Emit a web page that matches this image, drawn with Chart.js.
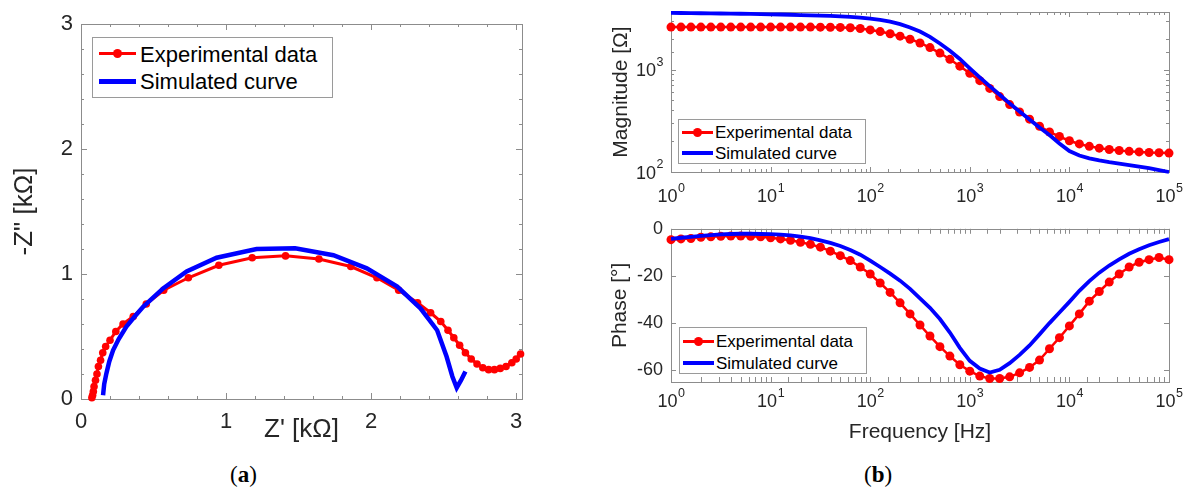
<!DOCTYPE html>
<html lang="en">
<head>
<meta charset="utf-8">
<title>Nyquist and Bode plots</title>
<script src="https://cdn.jsdelivr.net/npm/chart.js@4.4.1/dist/chart.umd.min.js"></script>
<style>
  body { margin: 0; background: #fff; }
  #page { position: relative; width: 1191px; height: 493px; overflow: hidden;
          font-family: "Liberation Sans", Arial, sans-serif; }
  .plot { position: absolute; }
  .legend { position: absolute; background: #fff; border: 1px solid #9a9a9a; box-sizing: border-box; color: #000; }
  .legend span { position: absolute; white-space: nowrap; }
  .legend .ln { position: absolute; }
  .legend .dot { position: absolute; border-radius: 50%; background: #ff0000; }
  .cap { position: absolute; font-family: "Liberation Serif", "DejaVu Serif", serif; font-size: 23px; color: #000; }
</style>
</head>
<body>
<div id="page">
  <canvas id="nyq" class="plot" style="left:0;top:0" width="545" height="445"></canvas>
  <canvas id="mag" class="plot" style="left:590px;top:0" width="601" height="210"></canvas>
  <canvas id="pha" class="plot" style="left:590px;top:210px" width="601" height="240"></canvas>

  <div class="legend" style="left:92px;top:37px;width:241px;height:61px;font-size:22px;line-height:26px">
    <div class="ln" style="left:6px;top:14px;width:37px;height:3px;background:#ff0000"></div>
    <div class="dot" style="left:20px;top:11px;width:9px;height:9px"></div>
    <span style="left:47px;top:4px">Experimental data</span>
    <div class="ln" style="left:6px;top:41px;width:37px;height:5px;background:#0000ff"></div>
    <span style="left:47px;top:31px">Simulated curve</span>
  </div>

  <div class="legend" style="left:678px;top:119px;width:188px;height:45px;font-size:17px;line-height:20px">
    <div class="ln" style="left:3px;top:11px;width:31px;height:3px;background:#ff0000"></div>
    <div class="dot" style="left:14px;top:8px;width:9px;height:9px"></div>
    <span style="left:36px;top:3px">Experimental data</span>
    <div class="ln" style="left:3px;top:31px;width:31px;height:4px;background:#0000ff"></div>
    <span style="left:36px;top:24px">Simulated curve</span>
  </div>

  <div class="legend" style="left:679px;top:327px;width:188px;height:47px;font-size:17px;line-height:20px">
    <div class="ln" style="left:3px;top:12px;width:31px;height:3px;background:#ff0000"></div>
    <div class="dot" style="left:14px;top:9px;width:9px;height:9px"></div>
    <span style="left:36px;top:4px">Experimental data</span>
    <div class="ln" style="left:3px;top:33px;width:31px;height:4px;background:#0000ff"></div>
    <span style="left:36px;top:26px">Simulated curve</span>
  </div>

  <div class="cap" style="left:230px;top:462px">(<b>a</b>)</div>
  <div class="cap" style="left:864px;top:462px">(<b>b</b>)</div>
</div>

<script>
// ---- data ----
// Nyquist plot, kOhm
var nyqExpRe = [0.075, 0.08, 0.085, 0.09, 0.10, 0.11, 0.12, 0.135, 0.15, 0.17, 0.20, 0.24, 0.29, 0.36,
                0.45, 0.57, 0.74, 0.95, 1.18, 1.41, 1.64, 1.86, 2.04, 2.19, 2.32, 2.41, 2.48, 2.53,
                2.57, 2.61, 2.65, 2.69, 2.73, 2.77, 2.81, 2.85, 2.89, 2.93, 2.97, 3.00, 3.03];
var nyqExpIm = [0.01, 0.03, 0.06, 0.10, 0.15, 0.20, 0.26, 0.31, 0.37, 0.42, 0.47, 0.54, 0.60, 0.66,
                0.76, 0.87, 0.97, 1.07, 1.13, 1.145, 1.12, 1.06, 0.97, 0.87, 0.77, 0.69, 0.62, 0.55,
                0.49, 0.43, 0.37, 0.32, 0.28, 0.25, 0.235, 0.235, 0.245, 0.26, 0.29, 0.32, 0.36];
var nyqSimRe = [0.152, 0.16, 0.175, 0.195, 0.221, 0.26, 0.313, 0.37, 0.43, 0.566, 0.728, 0.935,
                1.21, 1.476, 1.74, 1.97, 2.18, 2.34, 2.455, 2.52, 2.56, 2.59, 2.62, 2.65];
var nyqSimIm = [0.03, 0.12, 0.205, 0.30, 0.39, 0.48, 0.58, 0.66, 0.74, 0.885, 1.02, 1.13,
                1.20, 1.205, 1.15, 1.045, 0.90, 0.725, 0.55, 0.34, 0.18, 0.09, 0.15, 0.22];

// Bode plots
var freq = [1, 1.259, 1.585, 1.995, 2.512, 3.162, 3.981, 5.012, 6.310, 7.943,
            10, 12.59, 15.85, 19.95, 25.12, 31.62, 39.81, 50.12, 63.10, 79.43,
            100, 125.9, 158.5, 199.5, 251.2, 316.2, 398.1, 501.2, 631.0, 794.3,
            1000, 1259, 1585, 1995, 2512, 3162, 3981, 5012, 6310, 7943,
            10000, 12589, 15849, 19953, 25119, 31623, 39811, 50119, 63096, 79433, 100000];
var magExp = [2600, 2600, 2600, 2600, 2600, 2600, 2600, 2600, 2600, 2600,
              2600, 2600, 2600, 2600, 2600, 2595, 2590, 2580, 2560, 2520,
              2440, 2350, 2240, 2120, 1980, 1820, 1640, 1450, 1260, 1080,
              920, 780, 655, 545, 455, 385, 328, 280, 246, 222,
              202, 188, 178, 171, 166, 162, 159, 157, 155, 154, 153];
var magSim = [3580, 3570, 3560, 3550, 3540, 3530, 3520, 3510, 3495, 3480,
              3465, 3450, 3430, 3410, 3390, 3365, 3340, 3305, 3265, 3215,
              3150, 3060, 2940, 2780, 2580, 2350, 2090, 1800, 1530, 1270,
              1030, 840, 690, 568, 468, 390, 326, 272, 230, 190,
              160, 145, 136, 130, 125, 121, 117, 113, 109, 104.5, 100];
var phaExp = [-4.6, -4.3, -4.1, -3.6, -3.4, -3.2, -3.1, -3.1, -3.2, -3.4,
              -3.8, -4.3, -4.9, -5.7, -6.6, -7.8, -9.5, -11.4, -13.5, -16.2,
              -19.2, -23.0, -27.0, -31.4, -36.1, -40.8, -45.5, -50.0, -54.0, -57.7,
              -60.4, -62.5, -63.5, -63.5, -62.8, -61.1, -58.8, -55.7, -50.9, -46.2,
              -41.2, -36.1, -30.7, -26.6, -22.6, -19.2, -16.2, -14.2, -13.1, -12.2, -13.1];
var phaSim = [-4.3, -3.8, -3.4, -3.0, -2.7, -2.4, -2.2, -2.1, -2.1, -2.2,
              -2.3, -2.5, -2.8, -3.3, -4.0, -4.9, -6.0, -7.3, -9.0, -11.0,
              -13.5, -16.2, -19.0, -22.0, -25.5, -29.5, -33.5, -38.3, -44.0, -50.5,
              -56.0, -59.3, -61.0, -59.8, -57.0, -53.5, -49.5, -44.8, -40.0, -35.5,
              -31.0, -26.3, -22.2, -18.6, -15.6, -13.0, -10.6, -8.7, -7.0, -5.6, -4.4];

var legendNames = ['Experimental data', 'Simulated curve'];

// ---- helpers ----
var RED = '#ff0000', BLUE = '#0000ff', INK = '#262626', BOXC = '#8c8c8c';
var FAM = "'Liberation Sans', Arial, sans-serif";
Chart.defaults.font.family = FAM;

function pairs(xs, ys) {
  return xs.map(function (x, i) { return { x: x, y: ys[i] }; });
}
function isDecade(v) {
  var l = Math.log10(v);
  return Math.abs(l - Math.round(l)) < 1e-6;
}
function isInt(v) { return Math.abs(v - Math.round(v)) < 1e-6; }
function intLabel(v) { return isInt(v) ? String(Math.round(v)) : ''; }

// inward ticks on all four sides + grey box, like matlab axes
function boxPlugin(isMajor, majLen, minLen) {
  return {
    id: 'mbox',
    beforeDatasetsDraw: function (chart) {
      var ctx = chart.ctx, a = chart.chartArea;
      ctx.save();
      ctx.strokeStyle = BOXC;
      ctx.lineWidth = 1;
      ['x', 'y'].forEach(function (id) {
        var s = chart.scales[id];
        s.ticks.forEach(function (t) {
          var len = isMajor(t.value) ? majLen : minLen;
          var p = Math.round(s.getPixelForValue(t.value)) + 0.5;
          ctx.beginPath();
          if (id === 'x') {
            ctx.moveTo(p, a.bottom); ctx.lineTo(p, a.bottom - len);
            ctx.moveTo(p, a.top); ctx.lineTo(p, a.top + len);
          } else {
            ctx.moveTo(a.left, p); ctx.lineTo(a.left + len, p);
            ctx.moveTo(a.right, p); ctx.lineTo(a.right - len, p);
          }
          ctx.stroke();
        });
      });
      ctx.strokeRect(Math.round(a.left) + 0.5, Math.round(a.top) + 0.5,
                     Math.round(a.right - a.left), Math.round(a.bottom - a.top));
      ctx.restore();
    }
  };
}

// "10" with a raised exponent for the decade ticks of log axes
function decadeLabels(axes) {
  return {
    id: 'decades',
    afterDraw: function (chart) {
      var ctx = chart.ctx, a = chart.chartArea;
      ctx.save();
      ctx.fillStyle = INK;
      ctx.textBaseline = 'alphabetic';
      ctx.textAlign = 'left';
      Object.keys(axes).forEach(function (id) {
        var s = chart.scales[id], o = axes[id];
        s.ticks.forEach(function (t) {
          if (!isDecade(t.value)) return;
          var p = s.getPixelForValue(t.value);
          var ex = String(Math.round(Math.log10(t.value)));
          ctx.font = '18px ' + FAM;
          var wb = ctx.measureText('10').width;
          ctx.font = '12.5px ' + FAM;
          var we = ctx.measureText(ex).width;
          var x0, yb;
          if (id === 'x') { x0 = p - (wb + we) / 2; yb = a.bottom + o.drop; }
          else { x0 = a.left - 8 - wb - we; yb = p + 6.5; }
          ctx.font = '18px ' + FAM;
          ctx.fillText('10', x0, yb);
          ctx.font = '12.5px ' + FAM;
          ctx.fillText(ex, x0 + wb + 0.5, yb - 10.5);
        });
      });
      ctx.restore();
    }
  };
}

function simSet(data, w) {
  return { label: legendNames[1], data: data, showLine: true, borderColor: BLUE,
           borderWidth: w, pointRadius: 0, tension: 0, clip: false };
}
function expSet(data, r, w) {
  return { label: legendNames[0], data: data, showLine: true, borderColor: RED,
           backgroundColor: RED, borderWidth: w, pointRadius: r, pointBorderWidth: 0,
           pointBackgroundColor: RED, tension: 0, clip: false };
}

var noGrid = { display: false, drawTicks: false };
var noBorder = { display: false };
var baseOpts = {
  responsive: false, animation: false, events: [],
  plugins: { legend: { display: false }, tooltip: { enabled: false } }
};

// ---- (a) Nyquist ----
new Chart(document.getElementById('nyq'), {
  type: 'scatter',
  data: { datasets: [simSet(pairs(nyqSimRe, nyqSimIm), 4.5), expSet(pairs(nyqExpRe, nyqExpIm), 3.8, 3)] },
  options: Object.assign({}, baseOpts, {
    layout: { padding: { left: 0, top: 24, right: 23, bottom: 0 } },
    scales: {
      x: { type: 'linear', min: 0, max: 3.04, grid: noGrid, border: noBorder,
           afterFit: function (s) { s.height = 46; },
           ticks: { stepSize: 0.2, includeBounds: false, autoSkip: false, maxRotation: 0,
                    padding: 10, color: INK, font: { size: 22 }, callback: intLabel },
           title: { display: true, text: "Z' [k\u03A9]", color: INK, font: { size: 26 },
                    padding: { top: 0, bottom: 0 } } },
      y: { type: 'linear', min: 0, max: 3, grid: noGrid, border: noBorder,
           afterFit: function (s) { s.width = 81; },
           ticks: { stepSize: 0.2, includeBounds: false, autoSkip: false,
                    padding: 8, color: INK, font: { size: 22 }, callback: intLabel },
           title: { display: true, text: '-Z" [k\u03A9]', color: INK, font: { size: 26 },
                    padding: { top: 9, bottom: 0 } } }
    }
  }),
  plugins: [boxPlugin(isInt, 6, 3)]
});

// ---- (b) magnitude ----
new Chart(document.getElementById('mag'), {
  type: 'scatter',
  data: { datasets: [simSet(pairs(freq, magSim), 3.8), expSet(pairs(freq, magExp), 4.5, 2.5)] },
  options: Object.assign({}, baseOpts, {
    layout: { padding: { left: 0, top: 12, right: 22, bottom: 0 } },
    scales: {
      x: { type: 'logarithmic', min: 1, max: 100000, grid: noGrid, border: noBorder,
           afterFit: function (s) { s.height = 38; },
           ticks: { display: false, autoSkip: false } },
      y: { type: 'logarithmic', min: 100, max: 3650, grid: noGrid, border: noBorder,
           afterFit: function (s) { s.width = 81; },
           ticks: { display: false, autoSkip: false },
           title: { display: true, text: 'Magnitude [\u03A9]', color: INK, font: { size: 21 },
                    padding: { top: 19, bottom: 0 } } }
    }
  }),
  plugins: [boxPlugin(isDecade, 5, 3), decadeLabels({ x: { drop: 30 }, y: {} })]
});

// ---- (b) phase ----
new Chart(document.getElementById('pha'), {
  type: 'scatter',
  data: { datasets: [simSet(pairs(freq, phaSim), 3.8), expSet(pairs(freq, phaExp), 4.5, 2.5)] },
  options: Object.assign({}, baseOpts, {
    layout: { padding: { left: 0, top: 11, right: 22, bottom: 0 } },
    scales: {
      x: { type: 'logarithmic', min: 1, max: 100000, grid: noGrid, border: noBorder,
           afterFit: function (s) { s.height = 68; },
           ticks: { display: false, autoSkip: false },
           title: { display: true, text: 'Frequency [Hz]', color: INK, font: { size: 21 },
                    padding: { top: 0, bottom: 5 } } },
      y: { type: 'linear', min: -65, max: 0, grid: noGrid, border: noBorder,
           afterFit: function (s) { s.width = 81; },
           ticks: { stepSize: 20, includeBounds: false, autoSkip: false, padding: 8,
                    color: INK, font: { size: 18 } },
           title: { display: true, text: 'Phase [\u00B0]', color: INK, font: { size: 21 },
                    padding: { top: 18, bottom: 0 } } }
    }
  }),
  plugins: [boxPlugin(function () { return true; }, 5, 3), decadeLabels({ x: { drop: 25 } })]
});
</script>
</body>
</html>
